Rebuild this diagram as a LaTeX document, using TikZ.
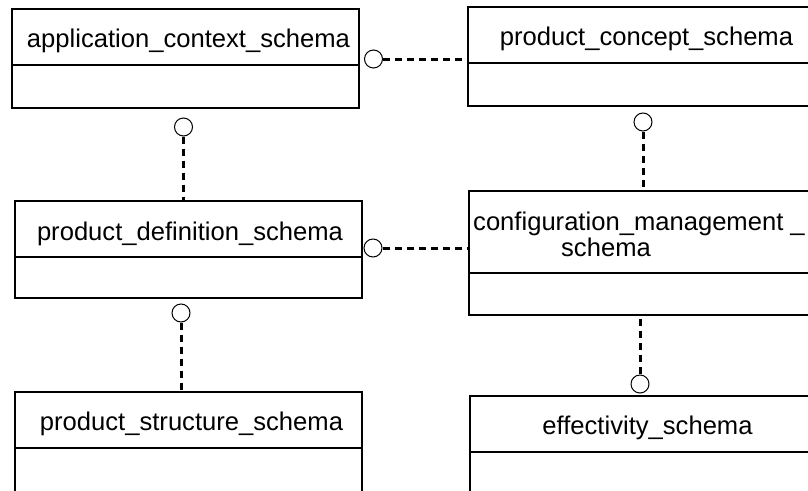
\documentclass[tikz,border=0pt]{standalone}
\usepackage{fontspec}
\setmainfont{Liberation Sans}
\begin{document}
\begin{tikzpicture}[x=1pt,y=-1pt,
  schemabox/.style={draw, line width=1.8pt, rectangle, inner sep=0pt},
  divider/.style={line width=1.5pt},
  title/.style={font=\fontsize{25.6}{22}\selectfont, inner sep=0pt, anchor=base},
  port/.style={draw, circle, line width=1pt, minimum size=18pt, inner sep=0pt, fill=white},
  link/.style={line width=3pt, dash pattern=on 7pt off 5pt}]
\useasboundingbox (0,0) rectangle (808,490);
\clip (0,0) rectangle (808,490);
% boxes
\node[schemabox, minimum width=347pt, minimum height=99pt] (acs) at (185.5,58.5) {};
\node[schemabox, minimum width=357pt, minimum height=99pt] (pcs) at (646.5,56.5) {};
\node[schemabox, minimum width=347pt, minimum height=97pt] (pds) at (188.5,249.5) {};
\node[schemabox, minimum width=357pt, minimum height=124pt] (cms) at (647.5,253) {};
\node[schemabox, minimum width=347pt, minimum height=128pt] (pss) at (188.5,456) {};
\node[schemabox, minimum width=357pt, minimum height=128pt] (efs) at (648.5,460) {};
% dividers
\draw[divider] (12,65) -- (359,65);
\draw[divider] (468,63) -- (825,63);
\draw[divider] (15,257) -- (362,257);
\draw[divider] (469,273) -- (826,273);
\draw[divider] (15,448) -- (362,448);
\draw[divider] (470,452) -- (827,452);
% titles
\node[title] (t1) at (188.5,47.5) {application\_context\_schema};
\node[title] (t2) at (646.5,45.5) {product\_concept\_schema};
\node[title] (t3) at (190,240) {product\_definition\_schema};
\node[title] (t4a) at (639,230) {configuration\_management \_};
\node[title] (t4b) at (606,256) {schema};
\node[title] (t5) at (191.5,430.5) {product\_structure\_schema};
\node[title] (t6) at (647.5,434) {effectivity\_schema};
% ports
\node[port] (c1) at (373.5,59) {};
\node[port] (c2) at (183.5,127) {};
\node[port] (c3) at (373,248) {};
\node[port] (c4) at (643,122) {};
\node[port] (c5) at (181,313) {};
\node[port] (c6) at (640,384) {};
% links
\draw[link] (c1.east) -- (c1 -| pcs.west);
\draw[link] (c2.south) -- (c2 |- pds.north);
\draw[link] (c3.east) -- (c3 -| cms.west);
\draw[link] (c4.south) -- (c4 |- cms.north);
\draw[link] (c5.south) -- (c5 |- pss.north);
\draw[link, shorten <=3pt] (c6 |- cms.south) -- (c6.north);
\end{tikzpicture}
\end{document}
